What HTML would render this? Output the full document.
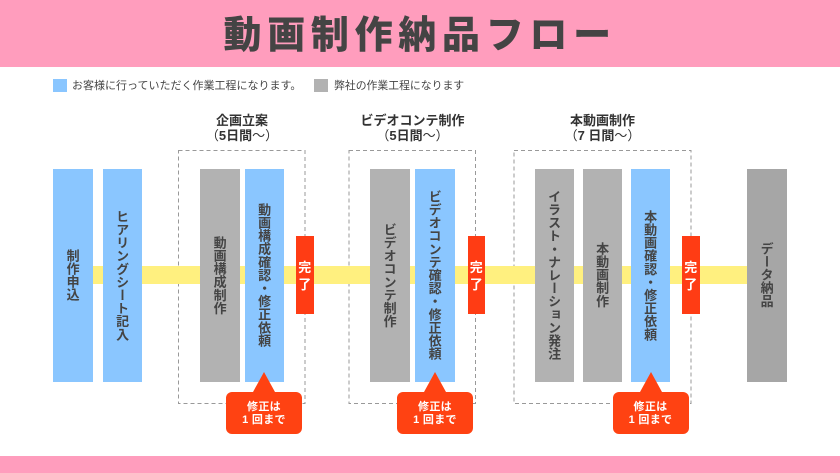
<!DOCTYPE html>
<html lang="ja"><head><meta charset="utf-8">
<style>
html,body{margin:0;padding:0;background:#fff}
#p{position:relative;width:840px;height:473px;overflow:hidden;background:#fff;font-family:"Liberation Sans","Noto Sans CJK JP",sans-serif;color:#444;font-weight:700}
#p div{position:absolute;box-sizing:border-box}
#p svg{position:absolute;left:0;top:0}
.b{top:168.5px;height:213px;width:39.5px;display:flex;align-items:center;justify-content:center}
.b span{writing-mode:vertical-rl;font-family:"Noto Sans CJK JP",sans-serif;font-size:13px;letter-spacing:.1px;white-space:nowrap;line-height:1;margin-left:.75px}
.u{background:#8ac6ff}.g{background:#b2b2b2}
.r{top:236px;width:17.5px;height:78px;background:#ff3c14;color:#fff;font-family:"Noto Sans CJK JP",sans-serif;font-size:13px;line-height:17px;text-align:center;padding-top:22px}
.c{top:392px;width:76px;height:41.5px;background:#ff4212;border-radius:6px;color:#fff;font-size:11px;line-height:13px;text-align:center;padding-top:9px;letter-spacing:.3px}
.t{width:0;height:0;top:372px;border-left:11.5px solid transparent;border-right:11.5px solid transparent;border-bottom:20.5px solid #ff4212}
.h{top:113px;text-align:center;font-size:13px;line-height:15px;color:#333;white-space:nowrap}
.h i{font-style:normal;font-weight:400}
</style></head><body><div id="p">
<div style="left:0;top:0;width:840px;height:66.5px;background:#ff9dbd"></div>
<div style="left:0;top:456px;width:840px;height:17px;background:#ff9dbd"></div>
<div style="left:223.5px;top:5px;width:420px;font-family:'Noto Sans CJK JP',sans-serif;font-weight:900;font-size:38px;line-height:54px;letter-spacing:5.7px;white-space:nowrap;color:#444">動画制作納品フロー</div>

<div class="u" style="left:53px;top:78.5px;width:13.5px;height:13.5px"></div>
<div style="left:72px;top:78.5px;font-size:11px;line-height:15px;font-weight:400;white-space:nowrap;color:#444">お客様に行っていただく作業工程になります。</div>
<div class="g" style="left:314px;top:78.5px;width:13.5px;height:13.5px"></div>
<div style="left:334px;top:78.5px;font-size:10.85px;line-height:15px;font-weight:400;white-space:nowrap;color:#444">弊社の作業工程になります</div>

<div class="h" style="left:182px;width:120px">企画立案<br><i>（</i>5日間<i>～）</i></div>
<div class="h" style="left:352.5px;width:120px">ビデオコンテ制作<br><i>（</i>5日間<i>～）</i></div>
<div class="h" style="left:542.5px;width:120px">本動画制作<br><i>（</i>7 日間<i>～）</i></div>

<svg width="840" height="473" fill="none" stroke="#999" stroke-width="1" stroke-dasharray="4 3">
<rect x="178.5" y="150.5" width="126.5" height="253"/>
<rect x="349" y="150.5" width="126.5" height="253"/>
<rect x="514" y="150.5" width="177" height="253"/>
</svg>

<div style="left:93px;top:266px;width:654px;height:18px;background:#fff07f"></div>

<div class="b u" style="left:53px"><span>制作申込</span></div>
<div class="b u" style="left:102.5px"><span>ヒアリングシート記入</span></div>
<div class="b g" style="left:200px"><span>動画構成制作</span></div>
<div class="b u" style="left:244.5px"><span>動画構成確認・修正依頼</span></div>
<div class="b g" style="left:370px"><span>ビデオコンテ制作</span></div>
<div class="b u" style="left:415px"><span>ビデオコンテ確認・修正依頼</span></div>
<div class="b g" style="left:534.5px"><span>イラスト・ナレーション発注</span></div>
<div class="b g" style="left:582.5px"><span>本動画制作</span></div>
<div class="b u" style="left:630.5px"><span>本動画確認・修正依頼</span></div>
<div class="b" style="left:747px;background:#a6a6a6"><span>データ納品</span></div>

<div class="r" style="left:296px">完<br>了</div>
<div class="r" style="left:467.5px">完<br>了</div>
<div class="r" style="left:682px">完<br>了</div>

<div class="t" style="left:253px"></div>
<div class="c" style="left:226px">修正は<br>1 回まで</div>
<div class="t" style="left:423.5px"></div>
<div class="c" style="left:397px">修正は<br>1 回まで</div>
<div class="t" style="left:639.5px"></div>
<div class="c" style="left:612.5px">修正は<br>1 回まで</div>
</div></body></html>
